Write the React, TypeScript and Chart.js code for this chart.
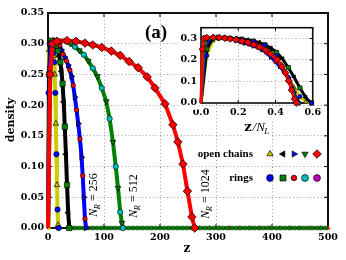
import React, { useEffect, useRef } from 'react';
import { Chart, registerables } from 'chart.js';
Chart.register(...registerables);

// ---------- data ----------
const xTickValues = [0, 100, 200, 300, 400, 500];
const yTickValues = [0, 0.05, 0.1, 0.15, 0.2, 0.25, 0.3, 0.35];
const insetXTicks = [0, 0.2, 0.4, 0.6];
const insetYTicks = [0, 0.1, 0.2, 0.3];
const nRLabels = ['256', '512', '1024'];
const nLValues = [32, 64, 128, 256, 512];

const yellowZ = [0, 1, 2, 3, 4, 5, 6, 7, 8, 9, 10, 11, 12, 13, 14, 15, 16, 17, 18, 19];
const yellowD = [0, 0.22, 0.29, 0.3, 0.3, 0.3, 0.3, 0.295, 0.29, 0.285, 0.28, 0.27, 0.25, 0.22, 0.17, 0.12, 0.07, 0.03, 0.005, 0];

const blackZ = [0, 2, 4, 6, 8, 10, 12, 14, 16, 18, 20, 22, 24, 26, 28, 30, 32, 34, 36, 38];
const blackD = [0, 0.25, 0.3, 0.305, 0.305, 0.3, 0.3, 0.297, 0.293, 0.288, 0.28, 0.27, 0.255, 0.235, 0.205, 0.165, 0.12, 0.07, 0.025, 0];

const blueZ = [0, 3, 6, 9, 12, 15, 18, 21, 24, 27, 30, 33, 36, 39, 42, 45, 48, 51, 54, 57, 60, 62, 64, 66, 68];
const blueD = [0, 0.26, 0.3, 0.305, 0.305, 0.303, 0.3, 0.297, 0.29, 0.283, 0.278, 0.272, 0.265, 0.257, 0.247, 0.232, 0.213, 0.192, 0.17, 0.145, 0.115, 0.085, 0.05, 0.015, 0];

const greenZ = [0, 4, 8, 16, 24, 32, 40, 48, 56, 64, 72, 80, 88, 96, 104, 110, 116, 121, 125, 129, 132, 134];
const greenD = [0, 0.25, 0.295, 0.305, 0.305, 0.304, 0.3, 0.295, 0.289, 0.282, 0.272, 0.26, 0.247, 0.228, 0.206, 0.178, 0.14, 0.1, 0.065, 0.026, 0.008, 0];

const redZ = [0, 4, 8, 16, 34, 50, 66, 80, 96, 113, 129, 145, 161, 177, 191, 209, 223, 232, 241, 249, 257, 262];
const redD = [0, 0.25, 0.3, 0.304, 0.305, 0.304, 0.301, 0.298, 0.294, 0.288, 0.281, 0.271, 0.261, 0.246, 0.228, 0.202, 0.168, 0.14, 0.104, 0.06, 0.018, 0];

const greenTailZ = [40, 48, 56, 64, 72, 80, 88, 96, 104, 112, 120, 128, 136, 144, 152, 160, 168, 176, 184, 192, 200, 208, 216, 224, 232, 240, 248, 256, 264, 272, 280, 288, 296, 304, 312, 320, 328, 336, 344, 352, 360, 368, 376, 384, 392, 400, 408, 416, 424, 432, 440, 448, 456, 464, 472, 480, 488, 496];
const greenTailD = [0, 0, 0, 0, 0, 0, 0, 0, 0, 0, 0, 0, 0, 0, 0, 0, 0, 0, 0, 0, 0, 0, 0, 0, 0, 0, 0, 0, 0, 0, 0, 0, 0, 0, 0, 0, 0, 0, 0, 0, 0, 0, 0, 0, 0, 0, 0, 0, 0, 0, 0, 0, 0, 0, 0, 0, 0, 0];
const redTailZ = [270, 288, 306, 324, 342, 360, 378, 396, 414, 432, 450, 468, 486, 500];
const redTailD = [0, 0, 0, 0, 0, 0, 0, 0, 0, 0, 0, 0, 0, 0];

// ---------- styles ----------
const chainStyles = [
  { line: '#cccc00', fill: '#cccc00', shape: 'triangle', rot: 0, r: 3.3, order: 5 },
  { line: '#000000', fill: '#000000', shape: 'triangle', rot: 270, r: 3.3, order: 4 },
  { line: '#0000ff', fill: '#0000ff', shape: 'triangle', rot: 90, r: 3.3, order: 3 },
  { line: '#008000', fill: '#008000', shape: 'triangle', rot: 180, r: 3.3, order: 2 },
  { line: '#ff0000', fill: '#ff0000', shape: 'rectRot', rot: 0, r: 4.3, order: 0 },
];
const ringStyles = [
  { fill: '#0000ff', shape: 'circle', r: 2.7 },
  { fill: '#008000', shape: 'rect', r: 3.8 },
  { fill: '#ff0000', shape: 'circle', r: 2.3 },
  { fill: '#00bfbf', shape: 'circle', r: 2.7 },
  { fill: '#bf00bf', shape: 'circle', r: 2.7 },
];
const seriesZ = [yellowZ, blackZ, blueZ, greenZ, redZ];
const seriesD = [yellowD, blackD, blueD, greenD, redD];

const TICK_FONT = { family: 'DejaVu Serif', size: 9.5, weight: 'bold' as const };

function pts(zs: number[], ds: number[], scale = 1) {
  return zs.map((z, i) => ({ x: z / scale, y: ds[i] }));
}

function buildDatasets(inset: boolean) {
  const sets: any[] = [];
  for (let i = 0; i < 5; i++) {
    const c = chainStyles[i];
    const rg = ringStyles[i];
    const scale = inset ? nLValues[i] : 1;
    const data = pts(seriesZ[i], seriesD[i], scale);
    const isRed = i === 4;
    const k = inset ? 0.8 : 1;
    sets.push({
      data,
      showLine: true,
      borderColor: c.line,
      borderWidth: inset ? 3 : 4,
      pointStyle: c.shape,
      rotation: c.rot,
      pointRotation: c.rot,
      pointBackgroundColor: c.fill,
      pointBorderColor: '#000',
      pointBorderWidth: 0.7,
      pointRadius: (ctx: any) => (ctx.dataIndex === 0 ? 0 : isRed || ctx.dataIndex % 2 === 0 ? c.r * k : 0),
      order: c.order,
      clip: 6,
    });
    sets.push({
      data,
      showLine: false,
      pointStyle: rg.shape,
      pointBackgroundColor: rg.fill,
      pointBorderColor: '#000',
      pointBorderWidth: 0.6,
      pointRadius: (ctx: any) => (ctx.dataIndex === 0 ? 0 : isRed || ctx.dataIndex % 2 === 1 ? rg.r * k : 0),
      order: isRed ? 6 : 1,
      clip: 6,
    });
  }
  if (!inset) {
    sets.push({
      data: pts(greenTailZ, greenTailD),
      showLine: false,
      pointStyle: 'rect',
      pointBackgroundColor: '#008000',
      pointBorderColor: '#004000',
      pointBorderWidth: 0.5,
      pointRadius: 2.6,
      order: 7,
      clip: 6,
    });
    sets.push({
      data: pts(redTailZ, redTailD),
      showLine: false,
      pointStyle: 'triangle',
      pointBackgroundColor: '#ff0000',
      pointBorderColor: '#ff0000',
      pointBorderWidth: 0.5,
      pointRadius: 2.4,
      order: 7,
      clip: 6,
    });
  }
  return sets;
}

function drawMarker(ctx: CanvasRenderingContext2D, shape: string, x: number, y: number, r: number, rot: number, fill: string) {
  ctx.save();
  ctx.beginPath();
  const rad = (rot * Math.PI) / 180;
  if (shape === 'circle') {
    ctx.arc(x, y, r, 0, Math.PI * 2);
  } else if (shape === 'triangle') {
    for (let j = 0; j < 3; j++) {
      const a = rad + (j * 2 * Math.PI) / 3;
      const px = x + Math.sin(a) * r;
      const py = y - Math.cos(a) * r;
      if (j === 0) ctx.moveTo(px, py);
      else ctx.lineTo(px, py);
    }
    ctx.closePath();
  } else if (shape === 'rect') {
    const s = r * Math.SQRT1_2;
    ctx.rect(x - s, y - s, 2 * s, 2 * s);
  } else if (shape === 'rectRot') {
    ctx.moveTo(x - r, y);
    ctx.lineTo(x, y - r);
    ctx.lineTo(x + r, y);
    ctx.lineTo(x, y + r);
    ctx.closePath();
  }
  ctx.fillStyle = fill;
  ctx.fill();
  ctx.strokeStyle = '#000';
  ctx.lineWidth = 0.7;
  ctx.stroke();
  ctx.restore();
}

function drawNR(ctx: CanvasRenderingContext2D, cx: number, cy: number, num: string) {
  ctx.save();
  ctx.translate(cx, cy);
  ctx.rotate(-Math.PI / 2);
  ctx.fillStyle = '#000';
  ctx.textBaseline = 'alphabetic';
  ctx.textAlign = 'left';
  const fN = 'italic 12px "Liberation Serif"';
  const fR = 'italic 8px "Liberation Serif"';
  const fT = '12px "Liberation Serif"';
  ctx.font = fN;
  const wN = ctx.measureText('N').width;
  ctx.font = fR;
  const wR = ctx.measureText('R').width;
  ctx.font = fT;
  const rest = ' = ' + num;
  const wT = ctx.measureText(rest).width;
  let x = -(wN + wR + wT) / 2;
  const base = 4;
  ctx.font = fN;
  ctx.fillText('N', x, base);
  x += wN;
  ctx.font = fR;
  ctx.fillText('R', x - 0.5, base + 3);
  x += wR;
  ctx.font = fT;
  ctx.fillText(rest, x, base);
  ctx.restore();
}

function frameAndTicks(chart: any, lw: number, tickLen: number, xs: number[], ys: number[]) {
  const { ctx, chartArea: a, scales } = chart;
  ctx.save();
  ctx.strokeStyle = '#000';
  ctx.lineWidth = 1;
  ctx.beginPath();
  xs.forEach((v) => {
    const p = scales.x.getPixelForValue(v);
    ctx.moveTo(p, a.top);
    ctx.lineTo(p, a.top + tickLen);
    ctx.moveTo(p, a.bottom);
    ctx.lineTo(p, a.bottom - tickLen);
  });
  ys.forEach((v) => {
    const p = scales.y.getPixelForValue(v);
    ctx.moveTo(a.left, p);
    ctx.lineTo(a.left + tickLen, p);
    ctx.moveTo(a.right, p);
    ctx.lineTo(a.right - tickLen, p);
  });
  ctx.stroke();
  ctx.lineWidth = lw;
  ctx.strokeStyle = '#111';
  ctx.strokeRect(a.left, a.top, a.right - a.left, a.bottom - a.top);
  ctx.restore();
}

const mainPlugin = {
  id: 'mainDeco',
  beforeDatasetsDraw(chart: any) {
    frameAndTicks(chart, 2, 4, xTickValues, yTickValues);
  },
  afterDraw(chart: any) {
    const ctx = chart.ctx as CanvasRenderingContext2D;
    ctx.save();
    ctx.fillStyle = '#000';
    ctx.textAlign = 'center';
    ctx.textBaseline = 'middle';
    ctx.font = 'bold 19px "Liberation Serif"';
    ctx.fillText('(a)', 156, 33);

    ctx.font = 'bold 11px "Liberation Serif"';
    ctx.textAlign = 'right';
    ctx.fillText('open chains', 253, 154);
    ctx.fillText('rings', 253, 178);
    const mx = [270, 283, 294, 305, 317];
    for (let i = 0; i < 5; i++) {
      const c = chainStyles[i];
      drawMarker(ctx, c.shape, mx[i], 154, c.shape === 'rectRot' ? 4.3 : 3.6, c.rot, c.fill);
      const rg = ringStyles[i];
      drawMarker(ctx, rg.shape, mx[i], 178, rg.shape === 'rect' ? 4.2 : i === 2 ? 2.8 : 3.4, 0, rg.fill);
    }

    drawNR(ctx, 93, 195, nRLabels[0]);
    drawNR(ctx, 133, 196, nRLabels[1]);
    drawNR(ctx, 205, 194, nRLabels[2]);

    ctx.fillStyle = '#000';
    ctx.textAlign = 'center';
    ctx.textBaseline = 'middle';
    ctx.font = 'bold 12px "DejaVu Serif"';
    ctx.fillText('z', 187, 249);
    ctx.save();
    ctx.translate(11, 120);
    ctx.rotate(-Math.PI / 2);
    ctx.font = 'bold 11px "DejaVu Serif"';
    ctx.fillText('density', 0, 0);
    ctx.restore();
    ctx.restore();
  },
};

const insetPlugin = {
  id: 'insetDeco',
  beforeDraw(chart: any) {
    const { ctx, chartArea: a } = chart;
    ctx.save();
    ctx.fillStyle = '#fff';
    ctx.fillRect(a.left, a.top, a.right - a.left, a.bottom - a.top);
    ctx.restore();
  },
  beforeDatasetsDraw(chart: any) {
    frameAndTicks(chart, 1.6, 3, insetXTicks, insetYTicks);
  },
  afterDraw(chart: any) {
    const ctx = chart.ctx as CanvasRenderingContext2D;
    ctx.save();
    ctx.fillStyle = '#000';
    ctx.textBaseline = 'alphabetic';
    ctx.textAlign = 'left';
    const f1 = 'bold 13px "DejaVu Serif"';
    const f2 = 'italic 13px "Liberation Serif"';
    const f3 = 'italic 9px "Liberation Serif"';
    ctx.font = f1;
    const w1 = ctx.measureText('z').width;
    ctx.font = f2;
    const w2 = ctx.measureText('/N').width;
    ctx.font = f3;
    const w3 = ctx.measureText('L').width;
    const total = w1 + w2 + w3 + 1;
    let x = 87 - total / 2;
    const base = 113;
    const bgW = total + 4;
    ctx.fillStyle = '#fff';
    ctx.fillRect(x - 2, base - 11, bgW, 16);
    ctx.fillStyle = '#000';
    ctx.font = f1;
    ctx.fillText('z', x, base);
    x += w1 + 1;
    ctx.font = f2;
    ctx.fillText('/N', x, base);
    x += w2;
    ctx.font = f3;
    ctx.fillText('L', x - 0.5, base + 3);
    ctx.restore();
  },
};

function axisCommon(extra: any) {
  return {
    type: 'linear',
    grid: { color: '#888', lineWidth: 0.8, drawTicks: false },
    border: { display: false, dash: [1, 2.5] },
    ...extra,
  };
}

export default function App() {
  const mainRef = useRef<HTMLCanvasElement>(null);
  const insetRef = useRef<HTMLCanvasElement>(null);

  useEffect(() => {
    const main = new Chart(mainRef.current as HTMLCanvasElement, {
      type: 'scatter',
      data: { datasets: buildDatasets(false) },
      options: {
        animation: false,
        responsive: false,
        maintainAspectRatio: false,
        layout: { padding: { top: 13, right: 18, left: 0, bottom: 0 } },
        plugins: { legend: { display: false }, tooltip: { enabled: false } },
        scales: {
          x: axisCommon({
            min: 0,
            max: 500,
            afterFit: (s: any) => { s.height = 32; },
            afterBuildTicks: (s: any) => { s.ticks = xTickValues.map((v) => ({ value: v })); },
            ticks: { font: TICK_FONT, color: '#000', padding: 4, maxRotation: 0, callback: (v: any) => String(v) },
          }),
          y: axisCommon({
            min: 0,
            max: 0.35,
            afterFit: (s: any) => { s.width = 48; },
            afterBuildTicks: (s: any) => { s.ticks = yTickValues.map((v) => ({ value: v })); },
            ticks: { font: TICK_FONT, color: '#000', padding: 4, callback: (v: any) => Number(v).toFixed(2) },
          }),
        },
      } as any,
      plugins: [mainPlugin],
    });

    const inset = new Chart(insetRef.current as HTMLCanvasElement, {
      type: 'scatter',
      data: { datasets: buildDatasets(true) },
      options: {
        animation: false,
        responsive: false,
        maintainAspectRatio: false,
        layout: { padding: { top: 9, right: 8, left: 0, bottom: 0 } },
        plugins: { legend: { display: false }, tooltip: { enabled: false } },
        scales: {
          x: axisCommon({
            min: 0,
            max: 0.6,
            afterFit: (s: any) => { s.height = 35; },
            afterBuildTicks: (s: any) => { s.ticks = insetXTicks.map((v) => ({ value: v })); },
            ticks: {
              font: TICK_FONT, color: '#000', padding: 4, maxRotation: 0,
              showLabelBackdrop: true, backdropColor: '#fff', backdropPadding: 1,
              callback: (v: any) => Number(v).toFixed(1),
            },
          }),
          y: axisCommon({
            min: 0,
            max: 0.35,
            afterFit: (s: any) => { s.width = 31; },
            afterBuildTicks: (s: any) => { s.ticks = insetYTicks.map((v) => ({ value: v })); },
            ticks: {
              font: TICK_FONT, color: '#000', padding: 4,
              showLabelBackdrop: true, backdropColor: '#fff', backdropPadding: 1,
              callback: (v: any) => Number(v).toFixed(1),
            },
          }),
        },
      } as any,
      plugins: [insetPlugin],
    });

    return () => {
      main.destroy();
      inset.destroy();
    };
  }, []);

  return (
    <div style={{ position: 'absolute', left: 0, top: 0, width: 346, height: 260, background: '#fff' }}>
      <canvas ref={mainRef} width={346} height={260} style={{ position: 'absolute', left: 0, top: 0, width: 346, height: 260 }} />
      <canvas ref={insetRef} width={155} height={120} style={{ position: 'absolute', left: 170, top: 18, width: 155, height: 120 }} />
    </div>
  );
}
